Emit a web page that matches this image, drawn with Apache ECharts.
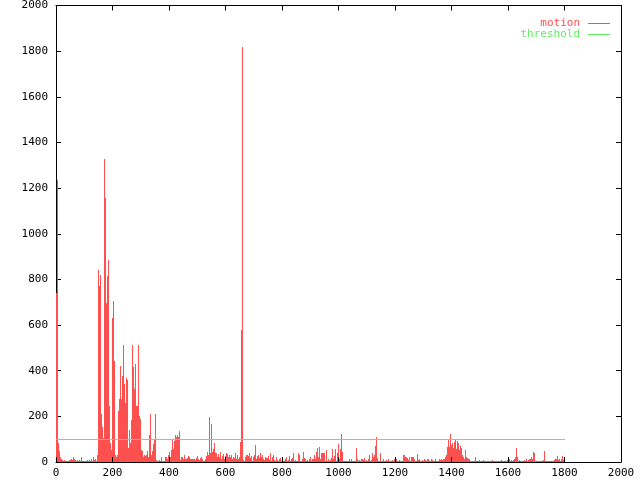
<!DOCTYPE html>
<html>
<head>
<meta charset="utf-8">
<script src="https://cdn.jsdelivr.net/npm/echarts@6/dist/echarts.min.js"></script>
<style>html,body{margin:0;padding:0;background:#fff}#c{width:640px;height:480px}</style>
</head>
<body>
<div id="c"></div>
<script>
// frame numbers (x) and motion values
const frames = [
0,4,7,11,14,18,21,25,28,32,35,39,42,46,50,53,57,60,64,67,
71,74,78,81,85,89,92,96,99,103,106,110,113,117,120,124,127,131,135,138,
142,145,149,152,156,159,163,166,170,173,177,181,184,188,191,195,198,202,205,209,
212,216,219,223,227,230,234,237,241,244,248,251,255,258,262,266,269,273,276,280,
283,287,290,294,297,301,304,308,312,315,319,322,326,329,333,336,340,343,347,350,
354,358,361,365,368,372,375,379,382,386,389,393,396,400,404,407,411,414,418,421,
425,428,432,435,439,443,446,450,453,457,460,464,467,471,474,478,481,485,489,492,
496,499,503,506,510,513,517,520,524,527,531,535,538,542,545,549,552,556,559,563,
566,570,573,577,581,584,588,591,595,598,602,605,609,612,616,620,623,627,630,634,
637,641,644,648,651,655,658,662,666,669,673,676,680,683,687,690,694,697,701,704,
708,712,715,719,722,726,729,733,736,740,743,747,750,754,758,761,765,768,772,775,
779,782,786,789,793,797,800,804,807,811,814,818,821,825,828,832,835,839,843,846,
850,853,857,860,864,867,871,874,878,881,885,889,892,896,899,903,906,910,913,917,
920,924,927,931,935,938,942,945,949,952,956,959,963,966,970,974,977,981,984,988,
991,995,998,1002,1005,1009,1012,1016,1020,1023,1027,1030,1034,1037,1041,1044,1048,1051,1055,1058,
1062,1066,1069,1073,1076,1080,1083,1087,1090,1094,1097,1101,1104,1108,1112,1115,1119,1122,1126,1129,
1133,1136,1140,1143,1147,1151,1154,1158,1161,1165,1168,1172,1175,1179,1182,1186,1189,1193,1197,1200,
1204,1207,1211,1214,1218,1221,1225,1228,1232,1235,1239,1243,1246,1250,1253,1257,1260,1264,1267,1271,
1274,1278,1281,1285,1289,1292,1296,1299,1303,1306,1310,1313,1317,1320,1324,1328,1331,1335,1338,1342,
1345,1349,1352,1356,1359,1363,1366,1370,1374,1377,1381,1384,1388,1391,1395,1398,1402,1405,1409,1412,
1416,1420,1423,1427,1430,1434,1437,1441,1444,1448,1451,1455,1458,1462,1466,1469,1473,1476,1480,1483,
1487,1490,1494,1497,1501,1505,1508,1512,1515,1519,1522,1526,1529,1533,1536,1540,1543,1547,1551,1554,
1558,1561,1565,1568,1572,1575,1579,1582,1586,1589,1593,1597,1600,1604,1607,1611,1614,1618,1621,1625,
1628,1632,1635,1639,1643,1646,1650,1653,1657,1660,1664,1667,1671,1674,1678,1682,1685,1689,1692,1696,
1699,1703,1706,1710,1713,1717,1720,1724,1728,1731,1735,1738,1742,1745,1749,1752,1756,1759,1763,1766,
1770,1774,1777,1781,1784,1788,1791,1795,1798
];
const motion = [
740,1237,83,50,22,12,8,5,8,5, 3,3,3,10,8,15,10,20,15,8,
3,10,3,10,5,20,5,3,3,5, 3,10,3,8,5,15,5,20,8,15,
3,30,842,769,820,210,155,107,1329,1158, 696,813,883,246,85,53,633,706,444,29,
22,29,225,278,421,278,377,513,342,257, 368,360,60,140,85,184,513,418,322,430,
246,246,513,202,187,53,47,20,31,26, 31,48,23,118,210,32,47,79,96,210,
9,6,6,9,6,22,6,6,6,22, 22,12,31,44,23,53,96,56,93,120,
111,120,111,137,9,23,23,12,29,12, 12,16,26,20,12,12,15,12,15,9,
16,26,12,7,16,20,12,3,3,12, 26,45,31,199,38,166,45,55,82,38,
41,23,35,23,45,15,26,35,15,26, 38,35,20,31,20,29,12,23,16,38,
15,32,12,20,89,580,1820,9,3,23, 31,29,26,38,16,26,6,23,31,75,
12,26,31,16,38,23,31,12,9,23, 16,16,26,9,38,6,23,31,9,6,
20,9,6,12,16,6,9,6,6,12, 20,6,9,26,4,12,16,38,6,9,
6,4,38,31,4,6,12,45,16,12, 6,9,6,12,20,6,15,12,31,12,
45,60,20,64,12,38,38,38,38,6, 53,6,12,6,9,16,56,15,26,56,
4,38,79,12,58,123,44,6,4,4, 6,4,6,12,6,12,6,4,6,4,
60,12,6,9,6,12,12,9,16,6, 9,4,12,31,6,9,38,20,31,70,
111,16,6,4,41,6,4,12,4,6, 9,6,12,6,4,6,9,6,12,4,
12,6,4,9,6,4,6,31,29,20, 23,16,9,20,6,20,23,20,12,6,
4,35,9,12,4,6,9,4,12,9, 4,12,15,4,4,15,9,4,6,12,
6,4,6,12,9,15,9,12,12,20, 31,67,99,67,121,75,85,60,89,96,
56,94,82,53,70,60,31,20,15,53, 20,16,12,15,6,4,4,6,4,20,
6,4,4,9,4,4,6,9,4,4, 6,4,4,6,4,4,9,4,6,4,
4,6,4,4,6,9,4,6,4,4, 6,9,4,15,6,9,4,9,12,20,
60,20,4,9,6,6,6,6,9,4, 12,6,9,12,12,20,12,45,41,4,
6,6,6,6,6,6,6,9,50,6, 6,4,6,4,6,6,4,6,9,15,
12,26,9,15,6,15,26,9,12
];
const thresholdFrames = [0, 1800];
const thresholdValue = 100;
const axisMin = 0, axisMax = 2000, axisStep = 200;

const RED = '#ff5050';
const GREEN = '#5ff05f';
const FONT = 'DejaVu Sans Mono';

const chart = echarts.init(document.getElementById('c'), null, {renderer: 'canvas'});

function axisCommon(showLabel, margin, z) {
  return {
    type: 'value', min: axisMin, max: axisMax, interval: axisStep,
    z: z,
    axisLine: {show: true, onZero: false, lineStyle: {color: '#000', width: 1}},
    axisTick: {show: true, inside: true, length: 5, lineStyle: {color: '#000', width: 1}},
    axisLabel: {show: showLabel, margin: margin, fontFamily: FONT, fontSize: 11, color: '#000',
                formatter: v => String(v)},
    splitLine: {show: false}
  };
}

chart.setOption({
  animation: false,
  backgroundColor: '#fff',
  grid: {left: 56, right: 19, top: 5, bottom: 18, containLabel: false},
  xAxis: [Object.assign(axisCommon(true, 6, 10), {position: 'bottom'}),
          Object.assign(axisCommon(false, 6, 10), {position: 'top'})],
  yAxis: [Object.assign(axisCommon(true, 8, 1), {position: 'left'}),
          Object.assign(axisCommon(false, 8, 10), {position: 'right'})],
  legend: {
    orient: 'vertical', right: 25, top: 13, align: 'right',
    icon: 'rect', itemWidth: 22, itemHeight: 1, itemGap: 0,
    selectedMode: false,
    textStyle: {fontFamily: FONT, fontSize: 11, lineHeight: 11, padding: [0, 3, 0, 0]},
    data: [
      {name: 'motion', textStyle: {color: RED}, itemStyle: {color: RED}},
      {name: 'threshold', textStyle: {color: GREEN}, itemStyle: {color: GREEN}}
    ]
  },
  series: [
    {
      name: 'motion', type: 'custom', xAxisIndex: 0, yAxisIndex: 0,
      color: RED,
      data: frames.map((f, i) => [f, motion[i]]),
      encode: {x: 0, y: 1},
      renderItem: function (params, api) {
        const i = params.dataIndex;
        const top = api.coord([api.value(0), api.value(1)]);
        const base = api.coord([api.value(0), 0]);
        const xL = Math.round(top[0]);
        const xR = i < frames.length - 1 ? Math.round(api.coord([frames[i + 1], 0])[0]) : xL + 1;
        const w = Math.max(1, xR - xL);
        return {
          type: 'rect',
          shape: {x: xL, y: Math.round(top[1]), width: w, height: Math.round(base[1]) - Math.round(top[1])},
          style: {fill: RED}
        };
      },
      z: 2
    },
    {
      name: 'threshold', type: 'custom', xAxisIndex: 0, yAxisIndex: 0,
      color: GREEN,
      data: [[thresholdFrames[0], thresholdFrames[1], thresholdValue]],
      encode: {x: [0, 1], y: 2},
      renderItem: function (params, api) {
        const a = api.coord([api.value(0), api.value(2)]);
        const b = api.coord([api.value(1), api.value(2)]);
        const y = Math.round(a[1]) + 0.5;
        return {
          type: 'line',
          shape: {x1: Math.round(a[0]), y1: y, x2: Math.round(b[0]), y2: y},
          style: {stroke: GREEN, lineWidth: 1}
        };
      },
      z: 3
    }
  ]
});
</script>
</body>
</html>
